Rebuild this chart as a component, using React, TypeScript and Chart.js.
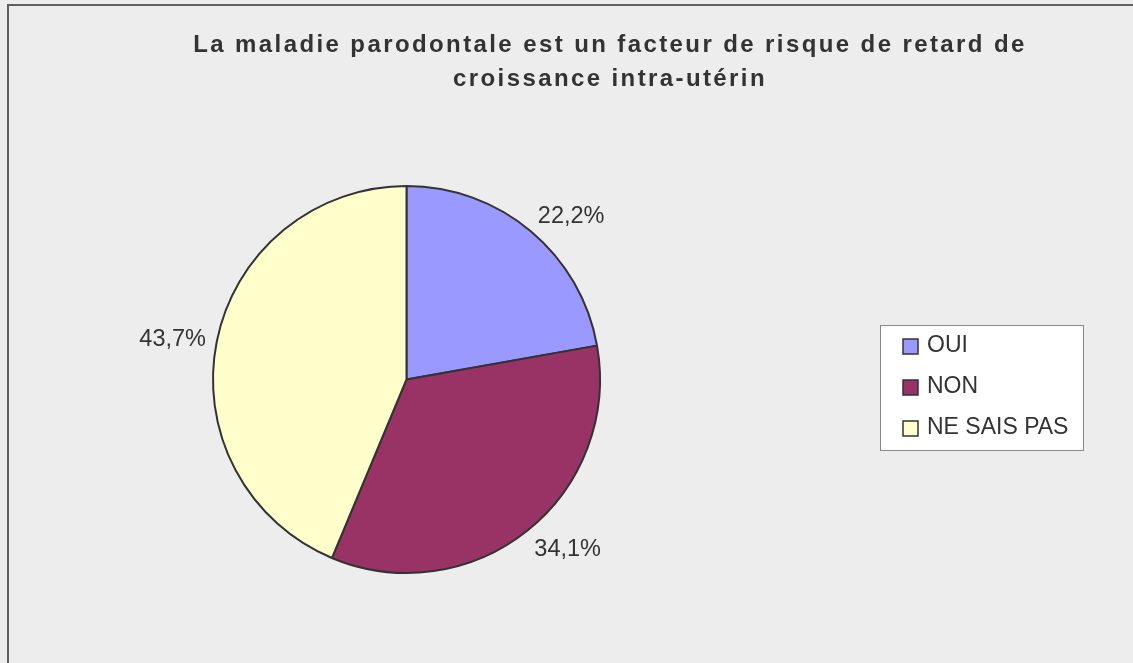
import React, { useEffect, useRef } from "react";
import { Chart, registerables } from "chart.js";

Chart.register(...registerables);

const titleLines = [
  "La maladie parodontale est un facteur de risque de retard de",
  "croissance intra-utérin",
];
const categories = ["OUI", "NON", "NE SAIS PAS"];
const values = [22.2, 34.1, 43.7];
const valueLabels = ["22,2%", "34,1%", "43,7%"];
const colors = ["#9999ff", "#993366", "#ffffcc"];

const W = 1133;
const H = 663;
const FONT = "'Liberation Sans', Arial, sans-serif";

const decorPlugin = {
  id: "decor",
  beforeDraw(chart: any) {
    const ctx = chart.ctx;
    ctx.save();
    ctx.fillStyle = "#ededed";
    ctx.fillRect(0, 0, W, H);
    ctx.strokeStyle = "#5f5f5f";
    ctx.lineWidth = 2;
    ctx.beginPath();
    ctx.moveTo(W + 5, 5);
    ctx.lineTo(8, 5);
    ctx.lineTo(8, H + 5);
    ctx.stroke();
    // title
    ctx.fillStyle = "#333333";
    ctx.font = `bold 24px ${FONT}`;
    (ctx as any).letterSpacing = "2.4px";
    ctx.textAlign = "center";
    ctx.textBaseline = "alphabetic";
    ctx.fillText(titleLines[0], 610, 52);
    ctx.fillText(titleLines[1], 610, 86);
    (ctx as any).letterSpacing = "0px";
    ctx.restore();
  },
  afterDatasetsDraw(chart: any) {
    const ctx = chart.ctx;
    const meta = chart.getDatasetMeta(0);
    ctx.save();
    ctx.font = `23.5px ${FONT}`;
    ctx.fillStyle = "#333333";
    ctx.textAlign = "center";
    ctx.textBaseline = "middle";
    meta.data.forEach((arc: any, i: number) => {
      const mid = (arc.startAngle + arc.endAngle) / 2;
      const r = arc.outerRadius + 11;
      const text = valueLabels[i];
      const w = ctx.measureText(text).width;
      const h = 22;
      const c = Math.cos(mid);
      const s = Math.sin(mid);
      const x = arc.x + r * c + Math.sign(c) * (w / 2);
      const y = arc.y + r * s + (h / 2) * s + 2;
      ctx.fillText(text, x, y);
    });
    // legend
    const bx = 880.5, by = 325.5, bw = 203, bh = 125;
    ctx.fillStyle = "#ffffff";
    ctx.fillRect(bx, by, bw, bh);
    ctx.strokeStyle = "#8a8a8a";
    ctx.lineWidth = 1;
    ctx.strokeRect(bx, by, bw, bh);
    ctx.font = `23px ${FONT}`;
    ctx.textAlign = "left";
    ctx.textBaseline = "alphabetic";
    categories.forEach((c, i) => {
      const base = 352 + i * 41;
      ctx.fillStyle = colors[i];
      ctx.fillRect(903, base - 13, 15, 15);
      ctx.strokeStyle = "#333333";
      ctx.lineWidth = 1.5;
      ctx.strokeRect(903, base - 13, 15, 15);
      ctx.fillStyle = "#333333";
      ctx.fillText(c, 927, base);
    });
    ctx.restore();
  },
};

export default function App() {
  const ref = useRef<HTMLCanvasElement | null>(null);
  useEffect(() => {
    if (!ref.current) return;
    const cx = 406.5, cy = 379.5, half = 200;
    const chart = new Chart(ref.current, {
      type: "pie",
      data: {
        labels: categories,
        datasets: [
          {
            data: values,
            backgroundColor: colors,
            borderColor: "#333333",
            borderWidth: 2,
            borderAlign: "center",
          },
        ],
      },
      options: {
        responsive: false,
        animation: false,
        radius: 193.5,
        layout: {
          padding: {
            left: cx - half,
            right: W - (cx + half),
            top: cy - half,
            bottom: H - (cy + half),
          },
        },
        plugins: {
          legend: { display: false },
          title: { display: false },
          tooltip: { enabled: false },
        },
      } as any,
      plugins: [decorPlugin],
    });
    return () => chart.destroy();
  }, []);
  return (
    <div style={{ position: "absolute", left: 0, top: 0, width: W, height: H }}>
      <canvas ref={ref} width={W} height={H} style={{ width: W, height: H, display: "block" }} />
    </div>
  );
}
